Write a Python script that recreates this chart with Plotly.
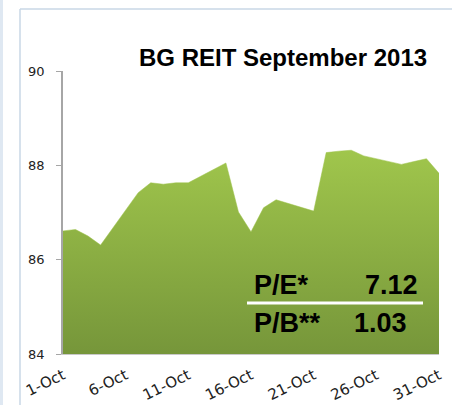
import plotly.graph_objects as go

# ---- data ----
dates = ["2013-10-01", "2013-10-02", "2013-10-03", "2013-10-04",
         "2013-10-07", "2013-10-08", "2013-10-09", "2013-10-10", "2013-10-11",
         "2013-10-14", "2013-10-15", "2013-10-16", "2013-10-17", "2013-10-18",
         "2013-10-21", "2013-10-22", "2013-10-23", "2013-10-24", "2013-10-25",
         "2013-10-28", "2013-10-29", "2013-10-30", "2013-10-31"]
prices = [86.61, 86.64, 86.50, 86.31,
          87.42, 87.63, 87.60, 87.63, 87.63,
          88.05, 87.01, 86.59, 87.10, 87.27,
          87.03, 88.27, 88.30, 88.32, 88.20,
          88.02, 88.08, 88.14, 87.83]
tick_dates = ["2013-10-01", "2013-10-06", "2013-10-11", "2013-10-16",
              "2013-10-21", "2013-10-26", "2013-10-31"]
tick_labels = ["1-Oct", "6-Oct", "11-Oct", "16-Oct", "21-Oct", "26-Oct", "31-Oct"]
y_ticks = [84, 86, 88, 90]
title_text = "BG REIT September 2013"
ratio_names = ["P/E*", "P/B**"]
ratio_values = ["7.12", "1.03"]

TICKFONT = "DejaVu Sans"
BOLDFONT = "Liberation Sans"

fig = go.Figure()
fig.add_trace(go.Scatter(
    x=dates, y=prices, mode="lines", fill="tozeroy",
    line=dict(width=0.5, color="#9cc34a"),
    fillgradient=dict(type="vertical", start=84, stop=max(prices),
                      colorscale=[[0, "#76963a"], [1, "#a0c64c"]]),
    hoverinfo="x+y", showlegend=False,
))

W, H = 452, 405
L, R, T, B = 63, 13, 71, 51
pw, ph = W - L - R, H - T - B

def px(x):
    return (x - L) / pw

def py(y):
    return 1 - (y - T) / ph

fig.update_layout(
    width=W, height=H,
    margin=dict(l=L, r=R, t=T, b=B, pad=0, autoexpand=False),
    paper_bgcolor="white", plot_bgcolor="white",
    font=dict(family=TICKFONT, color="#222222"),
    xaxis=dict(
        type="date", range=["2013-10-01", "2013-10-31"],
        tickvals=tick_dates, ticktext=tick_labels, tickangle=-26,
        tickfont=dict(size=15, family=TICKFONT, color="#222222"),
        showgrid=False, zeroline=False, automargin=False,
        showline=True, linecolor="#c8c8c8", linewidth=1,
        ticks="", fixedrange=True, ticklabelstandoff=6,
    ),
    yaxis=dict(
        range=[84, 90], tickvals=y_ticks, automargin=False,
        tickfont=dict(size=13, family=TICKFONT, color="#222222"),
        showgrid=False, zeroline=False,
        showline=True, linecolor="#a6a6a6", linewidth=1.5,
        ticks="outside", ticklen=5, tickcolor="#a6a6a6", tickwidth=1,
        ticklabelstandoff=9,
    ),
)

# frame lines
fig.add_shape(type="line", xref="paper", yref="paper",
              x0=px(20), x1=px(20), y0=py(9), y1=py(405),
              line=dict(color="#c9d7e6", width=1.5))
fig.add_shape(type="line", xref="paper", yref="paper",
              x0=px(20), x1=px(452), y0=py(9), y1=py(9),
              line=dict(color="#c9d7e6", width=1.5))
fig.add_shape(type="rect", xref="paper", yref="paper",
              x0=px(0), x1=px(3), y0=py(0), y1=py(405),
              line=dict(width=0), fillcolor="#dfe8f2")

# title
fig.add_annotation(text="<b>" + title_text + "</b>", xref="paper", yref="paper",
                   x=px(283), y=py(58), xanchor="center", yanchor="middle",
                   showarrow=False, font=dict(size=24, family=BOLDFONT, color="black"))

# ratios
fs = 27
fig.add_annotation(text="<b>" + ratio_names[0] + "</b>", xref="paper", yref="paper",
                   x=px(252), y=py(285), xanchor="left", yanchor="middle",
                   showarrow=False, font=dict(size=fs, family=BOLDFONT, color="black"))
fig.add_annotation(text="<b>" + ratio_values[0] + "</b>", xref="paper", yref="paper",
                   x=px(420), y=py(285), xanchor="right", yanchor="middle",
                   showarrow=False, font=dict(size=fs, family=BOLDFONT, color="black"))
fig.add_shape(type="line", xref="paper", yref="paper",
              x0=px(247), x1=px(423), y0=py(303), y1=py(303),
              line=dict(color="white", width=3))
fig.add_annotation(text="<b>" + ratio_names[1] + "</b>", xref="paper", yref="paper",
                   x=px(252), y=py(323), xanchor="left", yanchor="middle",
                   showarrow=False, font=dict(size=fs, family=BOLDFONT, color="black"))
fig.add_annotation(text="<b>" + ratio_values[1] + "</b>", xref="paper", yref="paper",
                   x=px(409), y=py(323), xanchor="right", yanchor="middle",
                   showarrow=False, font=dict(size=fs, family=BOLDFONT, color="black"))

fig.write_html("out.html", config={"displayModeBar": False},
               post_script="document.body.style.margin='0';")
